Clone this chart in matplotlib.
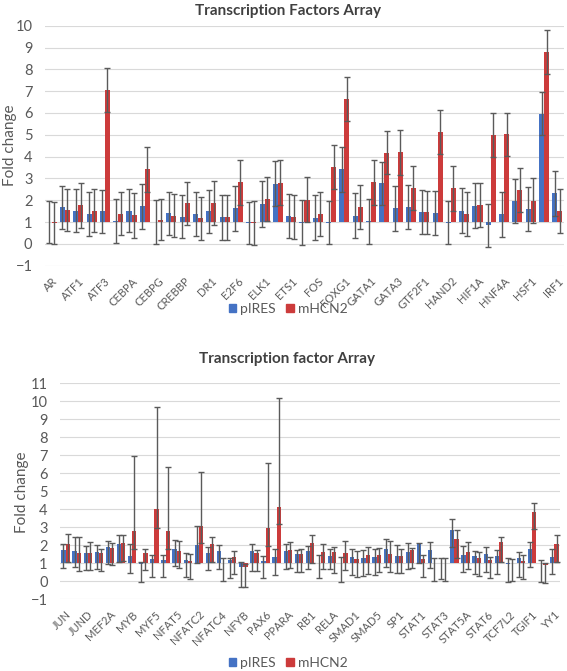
import numpy as np
import matplotlib.pyplot as plt
from matplotlib.patches import Patch

plt.rcParams['font.family'] = ['Lato', 'DejaVu Sans']

# ---- top panel: Transcription Factors Array (unlabeled categories left blank)
genes_a = ['AR', '', 'ATF1', '', 'ATF3', '', 'CEBPA', '', 'CEBPG', '', 'CREBBP', '',
           'DR1', '', 'E2F6', '', 'ELK1', '', 'ETS1', '', 'FOS', '', 'FOXG1', '',
           'GATA1', '', 'GATA3', '', 'GTF2F1', '', 'HAND2', '', 'HIF1A', '',
           'HNF4A', '', 'HSF1', '', 'IRF1']
pires_a = [1.0, 1.67, 1.52, 1.38, 1.49, 1.03, 1.52, 1.73, 1.0, 1.4, 1.25, 1.38, 1.49,
           1.21, 1.64, 0.95, 1.83, 2.76, 1.28, 0.98, 1.2, 0.97, 3.41, 1.28, 1.03,
           2.77, 1.64, 1.7, 1.46, 1.43, 0.98, 1.52, 1.75, 0.85, 1.35, 1.95, 1.61,
           5.97, 2.31]
mhcn_a = [0.95, 1.54, 1.76, 1.52, 7.05, 1.38, 1.32, 3.41, 1.11, 1.29, 1.86, 1.17, 1.89,
          1.21, 2.82, 0.95, 2.06, 2.8, 1.23, 2.03, 1.37, 3.52, 6.64, 1.67, 2.83,
          4.18, 4.19, 2.56, 1.44, 5.11, 2.54, 1.38, 1.78, 4.99, 5.02, 2.47, 1.98,
          8.78, 1.5]
pires_err_a = [0.95, 1.0, 0.99, 1.02, 0.98, 1.01, 0.99, 1.03, 1.0, 0.98, 0.99, 1.02, 0.99,
               1.01, 1.03, 0.97, 1.04, 1.02, 1.02, 1.02, 1.04, 0.98, 1.03, 1.03, 1.04,
               1.0, 1.03, 1.01, 1.01, 1.01, 0.97, 1.02, 1.02, 0.98, 1.03, 1.01, 1.01,
               1.0, 1.01]
mhcn_err_a = [0.97, 0.97, 1.03, 0.99, 0.99, 0.98, 1.03, 1.01, 0.95, 0.99, 0.99, 0.99, 1.01,
              1.01, 1.02, 1.0, 1.0, 1.04, 1.02, 1.02, 0.99, 0.99, 1.02, 1.01, 1.03,
              0.99, 1.03, 1.02, 1.0, 1.01, 1.04, 1.01, 1.02, 1.01, 0.99, 1.02, 1.02,
              1.01, 1.0]

# ---- bottom panel: Transcription factor Array
genes_b = ['JUN', '', 'JUND', '', 'MEF2A', '', 'MYB', '', 'MYF5', '', 'NFAT5', '',
           'NFATC2', '', 'NFATC4', '', 'NFYB', '', 'PAX6', '', 'PPARA', '', 'RB1', '',
           'RELA', '', 'SMAD1', '', 'SMAD5', '', 'SP1', '', 'STAT1', '', 'STAT3', '',
           'STAT5A', '', 'STAT6', '', 'TCF7L2', '', 'TGIF1', '', 'YY1']
pires_b = [1.74, 1.7, 1.6, 1.65, 1.9, 2.05, 1.4, 0.95, 1.25, 1.2, 1.8, 1.2, 2.04, 1.56,
           1.69, 1.19, 0.8, 1.7, 1.13, 1.33, 1.67, 1.5, 1.69, 1.02, 1.43, 1.02, 1.37,
           1.28, 1.33, 1.8, 1.43, 1.61, 2.11, 1.74, 1.02, 2.87, 1.46, 1.39, 1.5, 1.39,
           0.98, 1.31, 1.78, 1.02, 1.35]
pires_hi_b = [2.06, 2.45, 1.95, 2.0, 2.25, 2.55, 2.05, 1.05, 1.45, 1.45, 2.3, 1.55, 3.07,
              1.91, 2.02, 1.31, 1.06, 2.07, 1.43, 1.78, 2.06, 1.74, 1.94, 1.46, 1.78,
              1.37, 1.81, 1.74, 1.81, 2.37, 2.02, 2.13, 2.12, 2.19, 1.31, 3.44, 1.96,
              1.7, 1.89, 1.74, 1.31, 1.65, 2.2, 1.19, 1.81]
pires_lo_b = [0.76, 0.8, 0.65, 0.7, 0.95, 1.05, 0.45, -0.05, 0.25, 0.25, 0.85, 0.25, 1.04,
              0.63, 0.69, 0.17, -0.3, 0.59, 0.17, 0.35, 0.69, 0.54, 0.69, 0.17, 0.69,
              -0.02, 0.35, 0.3, 0.35, 0.81, 0.48, 0.67, 1.04, 0.76, 0.11, 1.93, 0.5,
              0.41, 0.5, 0.41, -0.04, 0.26, 0.78, -0.02, 0.39]
mhcn_b = [2.06, 1.6, 1.55, 1.6, 1.85, 2.15, 2.8, 1.6, 4.0, 2.8, 1.7, 1.15, 3.09, 2.06,
          1.0, 1.35, 0.78, 1.56, 2.98, 4.15, 1.76, 1.52, 2.11, 1.61, 1.61, 1.57, 1.24,
          1.46, 1.46, 1.5, 1.39, 1.72, 1.24, 1.0, 1.0, 2.35, 1.65, 1.28, 1.17, 2.2,
          1.0, 1.11, 3.87, 0.93, 2.07]
mhcn_hi_b = [2.65, 2.45, 2.2, 1.8, 2.15, 2.6, 6.95, 1.8, 9.7, 6.35, 2.25, 1.5, 6.06, 2.44,
             1.28, 1.67, 0.95, 1.74, 6.56, 10.19, 2.2, 1.78, 2.59, 2.07, 1.93, 2.26, 1.7,
             1.89, 1.83, 2.26, 1.78, 1.85, 1.44, 1.31, 1.31, 2.83, 2.2, 1.65, 1.33,
             2.44, 1.22, 1.46, 4.35, 1.0, 2.57]
mhcn_lo_b = [1.1, 0.6, 0.65, 0.6, 0.9, 1.15, 1.8, 0.65, 2.95, 1.8, 0.75, 0.15, 2.11, 1.05,
             0.04, 0.41, -0.31, 0.59, 1.98, 3.17, 0.74, 0.54, 1.04, 0.67, 0.44, 0.63,
             0.26, 0.39, 0.5, 0.5, 0.44, 0.76, 0.26, 0.04, 0.0, 1.31, 0.67, 0.31, 0.17,
             1.06, 0.04, 0.15, 2.89, -0.11, 1.06]

blue = '#4472C4'
red = '#CC3B3B'
ecol = '#5A5A5A'
W, H = 567, 671


def panel(ax, labels, v1, v2, e1, e2, ymin, ymax):
    x = np.arange(len(labels))
    w = 0.38
    v1 = np.array(v1)
    v2 = np.array(v2)
    # Excel style: horizontal axis crosses at 1
    ax.bar(x - w/2, v1 - 1, w, bottom=1, color=blue, zorder=2)
    ax.bar(x + w/2, v2 - 1, w, bottom=1, color=red, zorder=2)
    ax.errorbar(x - w/2, v1, yerr=e1, fmt='none', ecolor=ecol, elinewidth=1.0,
                capsize=2.3, capthick=1.0, zorder=3)
    ax.errorbar(x + w/2, v2, yerr=e2, fmt='none', ecolor=ecol, elinewidth=1.0,
                capsize=2.3, capthick=1.0, zorder=3)
    ax.set_xlim(-0.5, len(labels) - 0.5)
    ax.set_ylim(ymin, ymax)
    ax.set_yticks(range(ymin, ymax + 1))
    ax.set_xticks(x)
    ax.set_xticklabels(labels, rotation=45, ha='right', va='top',
                       rotation_mode='anchor', fontsize=8, color='#595959')
    ax.tick_params(axis='both', length=0, labelsize=10.5, labelcolor='#595959')
    ax.tick_params(axis='x', pad=7, labelsize=8)
    ax.tick_params(axis='y', pad=9)
    ax.grid(axis='y', color='#D9D9D9', lw=0.8, zorder=0)
    ax.set_axisbelow(True)
    for s in ax.spines.values():
        s.set_visible(False)


fig = plt.figure(figsize=(W/100, H/100), dpi=100)

ax1 = fig.add_axes([45/W, 1 - 265.7/H, 519/W, 240/H])
panel(ax1, genes_a, pires_a, mhcn_a, pires_err_a, mhcn_err_a, -1, 10)

lo1 = np.clip(np.array(pires_b) - np.array(pires_lo_b), 0, None)
hi1 = np.clip(np.array(pires_hi_b) - np.array(pires_b), 0, None)
lo2 = np.clip(np.array(mhcn_b) - np.array(mhcn_lo_b), 0, None)
hi2 = np.clip(np.array(mhcn_hi_b) - np.array(mhcn_b), 0, None)
ax2 = fig.add_axes([60/W, 1 - 599.3/H, 500/W, 216/H])
panel(ax2, genes_b, pires_b, mhcn_b, [lo1, hi1], [lo2, hi2], -1, 11)

fig.text(288/W, 1 - 11/H, 'Transcription Factors Array', ha='center', va='center',
         fontsize=11, fontweight='bold', color='#404040')
fig.text(287/W, 1 - 359/H, 'Transcription factor Array', ha='center', va='center',
         fontsize=11, fontweight='bold', color='#404040')
fig.text(10/W, 1 - 145/H, 'Fold change', rotation=90, ha='center', va='center',
         fontsize=11, color='#595959')
fig.text(22/W, 1 - 492/H, 'Fold change', rotation=90, ha='center', va='center',
         fontsize=11, color='#595959')

handles = [Patch(color=blue, label='pIRES'), Patch(color=red, label='mHCN2')]
for yc in (309, 663):
    fig.legend(handles=handles, loc='center', bbox_to_anchor=(288/W, 1 - yc/H),
               ncol=2, frameon=False, fontsize=10, handlelength=0.55,
               handleheight=0.55, handletextpad=0.25, columnspacing=0.8,
               borderpad=0.1, labelcolor='#595959')

plt.savefig('out.png', dpi=100)
plt.close()
